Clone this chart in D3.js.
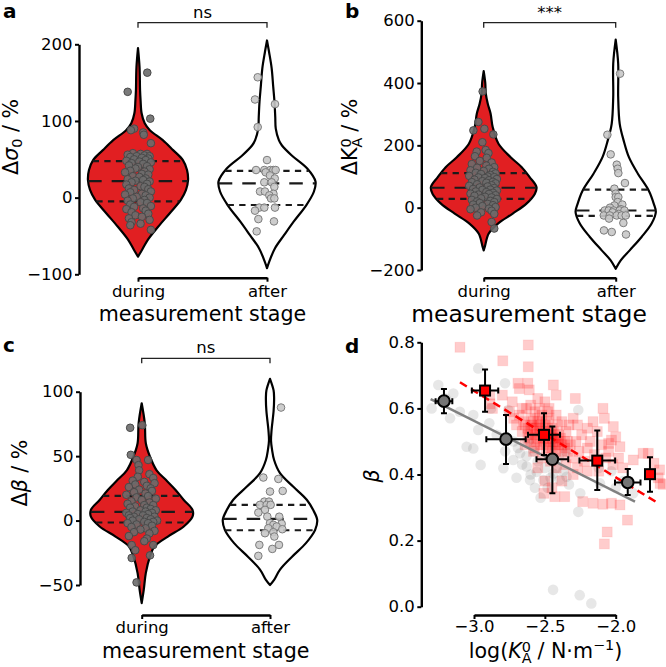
<!DOCTYPE html>
<html><head><meta charset="utf-8">
<script src="https://cdn.jsdelivr.net/npm/d3@7"></script>
<style>html,body{margin:0;padding:0;background:#fff;}</style>
</head><body>
<script>
// ================= DATA =================
const stages = ["during", "after"];

// ---- panel a : Δσ0 / %
const aTicks = [-100, 0, 100, 200];
const aDurProfV = [195,170,140,127,110,97,88,75,62,49,36,23,10,-3,-20,-38,-55,-68,-77];
const aDurProfD = [0,0.03,0.04,0.05,0.07,0.13,0.23,0.48,0.68,0.87,0.95,0.97,0.93,0.83,0.62,0.39,0.19,0.08,0];
const aAftProfV = [205,190,169,145,125,105,90,75,68,55,38,21,8,-10,-31,-49,-66,-84,-92];
const aAftProfD = [0,0.04,0.09,0.12,0.145,0.16,0.17,0.23,0.29,0.48,0.78,0.94,0.91,0.76,0.52,0.33,0.155,0.04,0];
const aDurQ = [-4.8, 21.6, 47.7];
const aAftQ = [-9.6, 18.6, 35];
const aDurPts = [163,138,103,90,88,85,82,71,
 58,57,57,56,55,54,54,53,52,51, 50,49,48,47,46,45,44,42,41,40,
 38,37,35,34,33,31,30,28,27,25, 24,23,22,21,20,18,17,15,14,12,
 11,10,8,7,5,4,3,1,0,-1, -3,-4,-6,-7,-9,-11,-12,-14,-15,-17,
 -19,-21,-23,-25,-27,-29,-32,-34,-36,-42];
const aDurJit = [0.072,-0.08,0.095,-0.03,-0.055,0.04,0.045,0.1,
 -0.04,0.02,0.07,-0.08,0.05,-0.01,0.09,-0.06,0.03,0.08,
 -0.03,0.06,-0.09,0.01,0.1,-0.05,0.04,-0.07,0.07,0.0,
 -0.02,0.09,-0.06,0.05,-0.1,0.03,0.08,-0.04,0.01,0.06,
 -0.08,0.04,-0.02,0.09,-0.05,0.07,-0.09,0.02,0.05,-0.07,
 0.08,-0.03,0.1,-0.06,0.03,-0.1,0.06,-0.01,0.09,-0.04,
 0.05,-0.08,0.02,0.07,-0.06,0.1,-0.03,0.04,-0.09,0.06,
 -0.05,0.08,-0.02,0.03,-0.07,0.09,-0.05,0.02,-0.06,0.1];
const aAftPts = [157,128,122,92,49,36,36,36,36,36,33,29,25,20,20,14,8,8,5,3,-1,-1,-13,-13,-13,-17,-28,-31,-44];
const aAftJit = [-0.072,-0.093,0.062,-0.072,0,-0.085,-0.021,0.026,0.049,0.067,-0.01,0.023,0.06,-0.021,0.036,0.057,-0.054,-0.016,0.05,0.018,0.031,0.057,-0.06,-0.021,0.062,-0.093,-0.067,0.054,-0.08];

// ---- panel b : ΔK_A^0 / %
const bTicks = [-200, 0, 200, 400, 600];
const bDurProfV = [438,400,366,334,302,259,205,162,130,98,66,45,13,-19,-51,-83,-126,-137];
const bDurProfD = [0,0.03,0.04,0.076,0.13,0.17,0.28,0.51,0.72,0.87,1.0,0.97,0.81,0.55,0.27,0.095,0.02,0];
const bAftProfV = [539,462,355,269,216,162,109,55,13,-14,-51,-94,-137,-169,-196];
const bAftProfD = [0,0.047,0.047,0.076,0.15,0.25,0.42,0.625,0.72,0.76,0.68,0.49,0.265,0.095,0];
const bDurQ = [28, 64, 111];
const bAftQ = [-26, -9, 58];
const bDurPts = [373,275,253,248,235,210,185,180,175,165,160,
 150,145,140,135,130,128,125,120,118,115,
 112,110,108,105,102,100,98,97,95,92,
 90,88,85,83,82,80,78,75,72,70,
 68,65,63,60,58,57,55,52,50,48,
 45,44,42,40,38,35,33,30,28,25,
 22,20,18,15,12,10,8,5,2,0,
 -3,-5,-10,-15,-20,-25,-46,-67];
const bDurJit = [-0.008,-0.04,0.005,-0.078,0.073,-0.01,0.015,-0.053,0.036,-0.066,0.023,
 -0.03,0.06,-0.09,0.02,0.08,-0.05,0.04,-0.1,0.0,0.07,
 -0.06,0.09,-0.02,0.05,-0.11,0.03,0.08,-0.04,0.01,0.1,
 -0.07,0.04,-0.01,0.07,-0.09,0.02,0.09,-0.05,0.06,-0.11,
 0.03,-0.03,0.08,-0.08,0.05,-0.01,0.1,-0.06,0.02,0.07,
 -0.1,0.04,-0.04,0.09,-0.07,0.01,0.06,-0.02,0.1,-0.09,
 0.05,-0.05,0.08,-0.03,0.03,-0.08,0.07,-0.01,0.09,-0.06,
 0.04,-0.1,0.06,-0.02,0.08,-0.05,0.06,0.08];
const bAftPts = [430,234,171,138,125,111,79,61,45,34,34,18,10,7,0,-5,-9,-9,-9,-9,-9,-15,-20,-25,-25,-25,-25,-25,-35,-49,-73,-78,-86];
const bAftJit = [0.033,-0.063,-0.038,0.008,0.015,0.02,0.07,-0.01,0.0,0.0,0.02,0.015,0.05,-0.01,-0.043,0.04,-0.083,-0.053,-0.015,0.03,0.066,-0.023,0.023,-0.09,-0.045,0.008,0.045,0.076,-0.05,0.058,-0.089,-0.03,0.078];

// ---- panel c : Δβ / %
const cTicks = [-50, 0, 50, 100];
const cDurProfV = [91,75.5,60,49.7,39,31.6,23.8,16,8.3,3,-4.6,-12.4,-20,-28,-40.8,-53.8,-64];
const cDurProfD = [0,0.06,0.08,0.16,0.29,0.47,0.66,0.82,0.99,0.99,0.82,0.51,0.25,0.16,0.08,0.04,0];
const cAftProfV = [110,101,95,85,70,62,55,47,36.8,26.4,16,8.3,0.5,-7.2,-17.5,-28,-38,-46,-50];
const cAftProfD = [0,0.07,0.08,0.07,0.03,0.02,0.04,0.08,0.195,0.45,0.72,0.84,0.92,0.88,0.70,0.43,0.195,0.08,0];
const cDurQ = [-1.5, 6.7, 19.2];
const cAftQ = [-7.5, 1.3, 12.2];
const cDurPts = [74,72,51,47,47,43,39,
 36,34,33,31,30,29,28,27,26,25,
 24,23,22,21,20,19,18,17,16,15,
 14,13,12,12,11,10,10,9,8,8,
 7,7,6,6,5,5,4,4,3,3,
 2,2,1,1,0,0,-1,-1,-2,-2,
 -3,-4,-5,-6,-7,-8,-9,-10,-12,-14,
 -16,-19,-19,-23,-27,-29,-48];
const cDurJit = [0.005,-0.09,-0.085,-0.04,0.05,-0.025,-0.02,
 0.06,-0.03,0.09,-0.07,0.02,0.1,-0.05,0.04,-0.1,0.07,
 -0.02,0.08,-0.06,0.03,-0.12,0.05,-0.04,0.11,0.0,-0.08,
 0.06,-0.11,0.02,0.09,-0.05,0.04,-0.09,0.07,-0.01,0.11,
 -0.07,0.03,-0.12,0.08,-0.03,0.05,-0.1,0.01,0.1,-0.06,
 0.04,-0.09,0.07,-0.02,0.12,-0.07,0.02,0.09,-0.11,0.05,
 -0.04,0.08,-0.08,0.03,-0.01,0.1,-0.06,0.06,-0.1,0.04,
 0.02,-0.078,0.09,-0.05,0.065,-0.078,-0.04];
const cAftPts = [87.7,33.4,32.3,23,22.5,14.7,14.7,12.2,12.2,12.2,8.3,6.2,3.1,3,-2,-2.5,-3.3,-4.6,-5.9,-6.7,-9,-9.8,-12.4,-18.9,-18.9,-22,-27.4];
const cAftJit = [0.086,-0.052,0.065,0.099,0,-0.044,-0.008,-0.078,-0.026,0.005,-0.039,-0.091,-0.021,0.072,0,0.091,0.026,0.052,-0.013,0.096,0.026,-0.039,0.034,-0.083,0.07,0.018,-0.091];

// ---- panel d : β vs log(K_A^0)
const dXTicks = [-3.0, -2.5, -2.0];
const dYTicks = [0.0, 0.2, 0.4, 0.6, 0.8];
const dGrayPts = [[-3.299,0.600],[-3.252,0.671],[-3.169,0.570],[-3.146,0.645],[-2.970,0.721],[-2.781,0.676],[-3.005,0.580],[-2.970,0.535],[-2.892,0.555],[-3.052,0.484],[-3.005,0.479],[-2.953,0.429],[-2.758,0.595],[-2.793,0.419],[-2.723,0.444],[-2.675,0.464],[-2.628,0.424],[-2.605,0.383],[-2.558,0.408],[-2.511,0.383],[-2.44,0.403],[-2.394,0.383],[-2.347,0.393],[-2.63,0.455],[-2.58,0.47],[-2.264,0.595],[-2.25,0.343],[-2.264,0.287],[-2.111,0.373],[-1.876,0.343],[-2.442,0.051],[-2.254,0.035],[-2.172,0.010],[-2.031,0.41],[-3.10,0.59],[-2.84,0.52],[-2.72,0.50],[-2.69,0.48],[-2.66,0.43],[-2.55,0.44],[-2.5,0.42],[-2.46,0.39],[-2.42,0.42],[-2.37,0.41],[-2.33,0.37],[-2.57,0.36],[-2.48,0.36],[-2.53,0.33],[-2.7,0.39],[-2.62,0.50],[-2.78,0.47],[-2.88,0.60],[-3.2,0.63],[-1.95,0.38],[-2.0,0.36],[-2.12,0.42],[-2.4,0.45],[-2.35,0.47],[-2.6,0.40]];
const dRedPts = [[-3.099,0.785],[-2.617,0.792],[-2.797,0.744],[-2.617,0.726],[-2.887,0.614],[-2.87,0.60],[-2.8,0.64],[-2.69,0.676],[-2.68,0.66],[-2.62,0.676],[-2.61,0.656],[-2.44,0.671],[-2.42,0.64],[-2.285,0.63],[-2.09,0.6],[-2.08,0.57],[-2.017,0.545],[-2.0,0.514],[-2.05,0.494],[-1.97,0.484],[-1.876,0.444],[-1.77,0.464],[-1.73,0.434],[-1.69,0.414],[-1.687,0.373],[-2.507,0.343],[-2.43,0.333],[-2.36,0.333],[-2.233,0.318],[-2.16,0.313],[-2.09,0.31],[-2.03,0.313],[-1.97,0.308],[-1.917,0.262],[-2.06,0.226],[-2.08,0.19],[-2.889,0.64],[-1.807,0.464],[-1.70,0.39],[-1.666,0.37],[-2.03,0.504],[-2.73,0.62],[-2.75,0.59],[-2.55,0.63],[-2.5,0.62],[-2.47,0.6],
 [-2.72,0.57],[-2.7,0.55],[-2.68,0.58],[-2.66,0.53],[-2.65,0.56],[-2.63,0.6],[-2.62,0.54],[-2.61,0.51],[-2.6,0.57],[-2.59,0.55],[-2.58,0.53],[-2.57,0.59],[-2.56,0.5],[-2.55,0.56],[-2.54,0.54],[-2.53,0.52],[-2.52,0.58],[-2.51,0.49],[-2.5,0.55],[-2.49,0.53],[-2.48,0.51],[-2.47,0.57],[-2.46,0.48],[-2.45,0.54],[-2.44,0.5],[-2.43,0.52],[-2.42,0.47],[-2.41,0.55],[-2.4,0.49],[-2.39,0.51],[-2.38,0.46],[-2.36,0.5],[-2.35,0.53],[-2.34,0.47],[-2.32,0.49],[-2.3,0.45],[-2.28,0.5],[-2.26,0.47],[-2.24,0.52],[-2.22,0.44],[-2.2,0.48],[-2.18,0.5],[-2.15,0.46],[-2.13,0.53],[-2.1,0.49],[-2.07,0.45],[-2.05,0.47],[-2.02,0.43],[-1.98,0.45],[-1.95,0.42],[-2.64,0.49],[-2.58,0.47],[-2.52,0.45],[-2.46,0.44],[-2.66,0.6],[-2.6,0.61],[-2.54,0.6],[-2.48,0.59],[-2.42,0.58],[-2.38,0.56],[-2.33,0.55],[-2.3,0.57],[-2.27,0.55],[-2.2,0.54],[-2.16,0.56],[-2.12,0.41],[-2.2,0.41],[-2.27,0.42],[-2.35,0.43],[-2.42,0.42],[-2.55,0.42],[-2.5,0.38],[-2.45,0.36],[-2.38,0.38],[-2.3,0.4],
 [-2.64,0.55],[-2.62,0.52],[-2.6,0.54],[-2.58,0.56],[-2.57,0.52],[-2.56,0.54],[-2.55,0.51],[-2.54,0.57],[-2.53,0.55],[-2.52,0.53],[-2.51,0.51],[-2.5,0.52],[-2.49,0.56],[-2.48,0.54],[-2.47,0.5],[-2.46,0.52],[-2.45,0.51],[-2.44,0.53],[-2.43,0.49],[-2.42,0.51],[-2.41,0.5],[-2.4,0.52],[-2.38,0.49],[-2.36,0.48],[-2.34,0.5],[-2.6,0.5],[-2.57,0.48],[-2.53,0.49],[-2.49,0.48],[-2.45,0.47]];
// binned means
const grayMeanX = [-3.212, -2.774, -2.447, -1.915];
const grayMeanY = [0.622, 0.507, 0.446, 0.376];
const grayXErr  = [0.059, 0.139, 0.112, 0.09];
const grayYLo   = [0.585, 0.432, 0.343, 0.338];
const grayYHi   = [0.659, 0.580, 0.545, 0.417];
const redMeanX = [-2.922, -2.506, -2.130, -1.758];
const redMeanY = [0.654, 0.520, 0.442, 0.401];
const redXErr  = [0.093, 0.113, 0.126, 0.02];
const redYLo   = [0.590, 0.459, 0.353, 0.348];
const redYHi   = [0.718, 0.585, 0.533, 0.452];
// fit lines
const grayFitX = [-3.306, -1.864], grayFitY = [0.628, 0.318];
const redFitX  = [-3.099, -1.692], redFitY  = [0.679, 0.311];

// ================= DRAWING =================
const W = 666, H = 667;
const FONT = "DejaVu Sans, sans-serif";
const FS_TICK = 16.5, FS_LAB = 20.6;
const RED = "#e11f22";
const svg = d3.select("body").append("svg").attr("width", W).attr("height", H)
  .style("font-family", FONT);

function styleAxis(g) {
  g.attr("font-family", FONT).attr("font-size", FS_TICK);
  g.select(".domain").attr("stroke", "#000").attr("stroke-width", 2.4);
  g.selectAll(".tick line").attr("stroke", "#000").attr("stroke-width", 2);
  g.selectAll(".tick text").attr("fill", "#000");
}

// rich text: parts = [{t, it, fs, dy, dx}]
function rich(g, x, y, rot, parts, fs) {
  const t = g.append("text")
    .attr("transform", `translate(${x},${y}) rotate(${rot})`)
    .attr("text-anchor", "middle").attr("font-size", fs || FS_LAB).attr("fill", "#000");
  parts.forEach(p => {
    const s = t.append("tspan").text(p.t);
    if (p.it) s.attr("font-style", "italic");
    if (p.fs) s.attr("font-size", p.fs);
    if (p.dy) s.attr("dy", p.dy);
    if (p.dx) s.attr("dx", p.dx);
  });
  return t;
}

function violinPanel(cfg) {
  const g = svg.append("g");
  const y = d3.scaleLinear().domain(cfg.yDomain).range(cfg.yRange);
  const x = d3.scalePoint().domain(stages).range(cfg.xRange);
  const step = cfg.xRange[1] - cfg.xRange[0];
  const w = d3.scaleLinear().domain([0, 1]).range([0, 0.4 * step]);

  cfg.violins.forEach(v => {
    const cx = x(v.stage);
    const prof = v.profV.map((val, i) => [val, v.profD[i]]);
    const area = d3.area().curve(d3.curveCatmullRom.alpha(0.5))
      .y(p => y(p[0])).x0(p => cx - w(p[1])).x1(p => cx + w(p[1]));
    g.append("path").attr("d", area(prof)).attr("fill", v.fill)
      .attr("stroke", "#000").attr("stroke-width", 2.2).attr("stroke-linejoin", "round");
    const dAt = d3.scaleLinear().domain(v.profV).range(v.profD);
    v.quart.forEach((q, i) => {
      const hw = w(dAt(q));
      g.append("line").attr("x1", cx - hw).attr("x2", cx + hw)
        .attr("y1", y(q)).attr("y2", y(q))
        .attr("stroke", "#1a1a1a").attr("stroke-width", 2.2)
        .attr("stroke-dasharray", i === 1 ? "13.5,10" : "6.3,5.3");
    });
    g.append("g").selectAll("circle")
      .data(v.pts.map((val, i) => [val, v.jit[i]])).join("circle")
      .attr("cx", p => cx + p[1] * step).attr("cy", p => y(p[0])).attr("r", 3.8)
      .attr("fill", v.ptFill).attr("stroke", v.ptStroke).attr("stroke-width", 1)
      .attr("fill-opacity", 0.9);
  });

  // axes
  const ya = g.append("g").attr("transform", `translate(${cfg.axX},0)`)
    .call(d3.axisLeft(y).tickValues(cfg.yTicks).tickSize(4).tickSizeOuter(0).tickPadding(2.5).tickFormat(d3.format("d")));
  styleAxis(ya);
  const xa = g.append("g").attr("transform", `translate(0,${cfg.spineY})`)
    .call(d3.axisBottom(x).tickSize(4).tickSizeOuter(0).tickPadding(cfg.xPad));
  styleAxis(xa);

  g.append("text").attr("x", cfg.labX).attr("y", cfg.labY).attr("text-anchor", "middle")
    .attr("font-size", cfg.labFs || FS_LAB).text("measurement stage");

  // significance bracket
  const x0 = x(stages[0]), x1 = x(stages[1]);
  g.append("path").attr("d", `M${x0},${cfg.brY + 5}V${cfg.brY}H${x1}V${cfg.brY + 5}`)
    .attr("fill", "none").attr("stroke", "#222").attr("stroke-width", 1.3);
  g.append("text").attr("x", (x0 + x1) / 2).attr("y", cfg.sigY).attr("text-anchor", "middle")
    .attr("font-size", FS_TICK).text(cfg.sig);

  rich(g, cfg.ylx, cfg.yly, -90, cfg.ylab);
  g.append("text").attr("x", cfg.pl[0]).attr("y", cfg.pl[1]).attr("font-weight", "bold")
    .attr("font-size", 20).text(cfg.letter);
}

violinPanel({
  letter: "a", pl: [3, 18],
  yDomain: [-100, 200], yRange: [274.3, 44.3], yTicks: aTicks, axX: 79,
  xRange: [138, 267], spineY: 277.7, xPad: 4, labX: 202.5, labY: 321,
  brY: 22.7, sigY: 17.5, sig: "ns",
  ylx: 17.5, yly: 137,
  ylab: [{t: "Δ"}, {t: "σ", it: true}, {t: "0", fs: 14.4, dy: 4}, {t: " / %", dy: -4}],
  violins: [
    {stage: "during", profV: aDurProfV, profD: aDurProfD, quart: aDurQ, fill: RED, pts: aDurPts, jit: aDurJit, ptFill: "#6c6c6c", ptStroke: "#4a4a4a"},
    {stage: "after", profV: aAftProfV, profD: aAftProfD, quart: aAftQ, fill: "#fff", pts: aAftPts, jit: aAftJit, ptFill: "#c8c8c8", ptStroke: "#7d7d7d"}
  ]
});

violinPanel({
  letter: "b", pl: [345, 18],
  yDomain: [-200, 600], yRange: [270, 20.7], yTicks: bTicks, axX: 421.3,
  xRange: [483.7, 615.7], spineY: 277.7, xPad: 4, labX: 529, labY: 322, labFs: 23.4,
  brY: 22.7, sigY: 17.5, sig: "***",
  ylx: 357, yly: 137,
  ylab: [{t: "ΔK"}, {t: "A", fs: 14.4, dy: 4.5}, {t: "0", fs: 14.4, dx: -9.8, dy: -11}, {t: " / %", dy: 6.5}],
  violins: [
    {stage: "during", profV: bDurProfV, profD: bDurProfD, quart: bDurQ, fill: RED, pts: bDurPts, jit: bDurJit, ptFill: "#6c6c6c", ptStroke: "#4a4a4a"},
    {stage: "after", profV: bAftProfV, profD: bAftProfD, quart: bAftQ, fill: "#fff", pts: bAftPts, jit: bAftJit, ptFill: "#c8c8c8", ptStroke: "#7d7d7d"}
  ]
});

violinPanel({
  letter: "c", pl: [3, 352],
  yDomain: [-50, 100], yRange: [585, 391.7], yTicks: cTicks, axX: 80,
  xRange: [141.7, 270], spineY: 615, xPad: 1.8, labX: 205.8, labY: 658,
  brY: 358.3, sigY: 353, sig: "ns",
  ylx: 27, yly: 473,
  ylab: [{t: "Δ"}, {t: "β", it: true}, {t: " / %"}],
  violins: [
    {stage: "during", profV: cDurProfV, profD: cDurProfD, quart: cDurQ, fill: RED, pts: cDurPts, jit: cDurJit, ptFill: "#6c6c6c", ptStroke: "#4a4a4a"},
    {stage: "after", profV: cAftProfV, profD: cAftProfD, quart: cAftQ, fill: "#fff", pts: cAftPts, jit: cAftJit, ptFill: "#c8c8c8", ptStroke: "#7d7d7d"}
  ]
});

// ---- panel d
(function () {
  const g = svg.append("g");
  const x = d3.scaleLinear().domain([-3, -2]).range([474, 615.7]);
  const y = d3.scaleLinear().domain([0, 0.8]).range([606.7, 342.3]);

  g.append("g").selectAll("circle").data(dGrayPts).join("circle")
    .attr("cx", d => x(d[0])).attr("cy", d => y(d[1])).attr("r", 5.3)
    .attr("fill", "#808080").attr("fill-opacity", 0.19);
  const s = 10;
  g.append("g").selectAll("rect").data(dRedPts).join("rect")
    .attr("x", d => x(d[0]) - s / 2).attr("y", d => y(d[1]) - s / 2).attr("width", s).attr("height", s)
    .attr("fill", "#ff0000").attr("fill-opacity", 0.2)
    .attr("stroke", "#ff0000").attr("stroke-opacity", 0.08).attr("stroke-width", 1);

  const line = d3.line().x(d => x(d[0])).y(d => y(d[1]));
  g.append("path").attr("d", line(grayFitX.map((v, i) => [v, grayFitY[i]])))
    .attr("stroke", "#808080").attr("stroke-width", 2.5).attr("fill", "none");
  g.append("path").attr("d", line(redFitX.map((v, i) => [v, redFitY[i]])))
    .attr("stroke", "#ff0000").attr("stroke-width", 2.5).attr("fill", "none").attr("stroke-dasharray", "8,5");

  function errbars(mx, my, xe, ylo, yhi) {
    const eg = g.append("g").attr("stroke", "#000").attr("stroke-width", 2).attr("fill", "none");
    mx.forEach((vx, i) => {
      const cx = x(vx), cy = y(my[i]);
      const xl = x(vx - xe[i]), xr = x(vx + xe[i]);
      const yt = y(yhi[i]), yb = y(ylo[i]);
      eg.append("path").attr("d", `M${cx},${yt}V${yb}M${cx - 3},${yt}H${cx + 3}M${cx - 3},${yb}H${cx + 3}`);
      eg.append("path").attr("d", `M${xl},${cy}H${xr}M${xl},${cy - 3}V${cy + 3}M${xr},${cy - 3}V${cy + 3}`);
    });
  }
  errbars(redMeanX, redMeanY, redXErr, redYLo, redYHi);
  g.append("g").selectAll("rect").data(redMeanX.map((v, i) => [v, redMeanY[i]])).join("rect")
    .attr("x", d => x(d[0]) - 5).attr("y", d => y(d[1]) - 5).attr("width", 10).attr("height", 10)
    .attr("fill", "#ff0000").attr("stroke", "#000").attr("stroke-width", 2);
  errbars(grayMeanX, grayMeanY, grayXErr, grayYLo, grayYHi);
  g.append("g").selectAll("circle").data(grayMeanX.map((v, i) => [v, grayMeanY[i]])).join("circle")
    .attr("cx", d => x(d[0])).attr("cy", d => y(d[1])).attr("r", 5.8)
    .attr("fill", "#757575").attr("stroke", "#000").attr("stroke-width", 2);

  const ya = g.append("g").attr("transform", "translate(421.3,0)")
    .call(d3.axisLeft(y).tickValues(dYTicks).tickSize(4).tickSizeOuter(0).tickPadding(2.5).tickFormat(d3.format(".1f")));
  styleAxis(ya);
  const xa = g.append("g").attr("transform", "translate(0,615)")
    .call(d3.axisBottom(x).tickValues(dXTicks).tickSize(4).tickSizeOuter(0).tickPadding(1.5).tickFormat(d3.format(".1f")));
  styleAxis(xa);

  rich(g, 545.5, 658, 0, [{t: "log("}, {t: "K", it: true}, {t: "A", fs: 14.4, dy: 4.5}, {t: "0", fs: 14.4, dx: -9.8, dy: -11}, {t: " / N·m", dy: 6.5}, {t: "−1", fs: 14.4, dy: -8}, {t: ")", dy: 8}]);
  rich(g, 379, 476, -90, [{t: "β", it: true}]);
  g.append("text").attr("x", 345).attr("y", 353).attr("font-weight", "bold").attr("font-size", 20).text("d");
})();
</script>
</body></html>
